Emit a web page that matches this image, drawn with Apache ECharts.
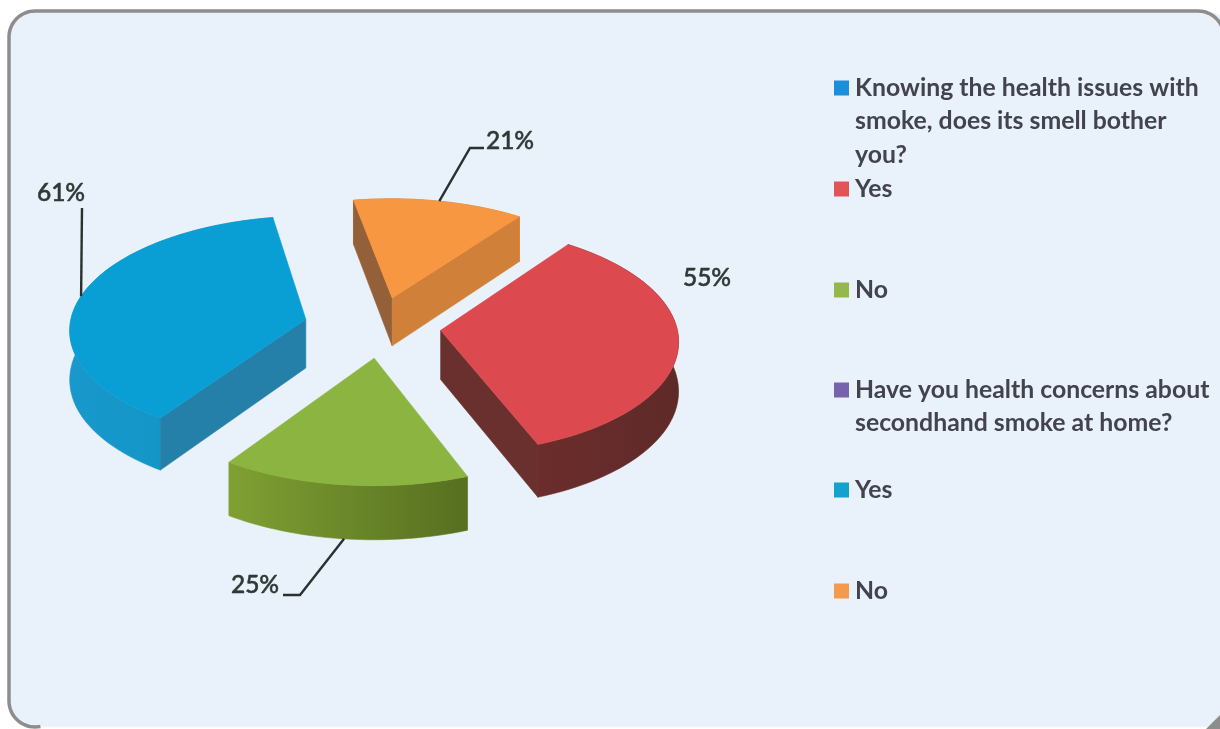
<!DOCTYPE html>
<html>
<head>
<meta charset="utf-8">
<title>Smoke survey</title>
<script src="https://cdn.jsdelivr.net/npm/echarts@6/dist/echarts.min.js"></script>
<style>
html,body{margin:0;padding:0;background:#fff}
#chart{width:1220px;height:729px}
</style>
</head>
<body>
<div id="chart"></div>
<script>
// Survey responses; each entry is one legend row and one pie slice.
const legendLines = [
  ['Knowing the health issues with', 'smoke, does its smell bother', 'you?'],
  ['Yes'],
  ['No'],
  ['Have you health concerns about', 'secondhand smoke at home?'],
  ['Yes'],
  ['No']
];
const values = [0, 55, 25, 0, 61, 21];
const legendColors = ['#1b8fd8', '#e05558', '#95b84d', '#7763ab', '#12a2cc', '#f59a4c'];
const legendRowY = [88, 189, 290, 390, 490, 591];

// Slice shading: top face, outer rim gradient, and the two radial cut faces.
const topColors  = ['#1b8fd8', '#dc4a50', '#8cb440', '#7763ab', '#0a9fd4', '#f79742'];
const rimLeft    = ['#1b8fd8', '#6c2d2c', '#80a033', '#7763ab', '#1898cb', '#c97a34'];
const rimRight   = ['#1b8fd8', '#5e2a28', '#566f20', '#7763ab', '#0f93c2', '#c97a34'];
const wallStart  = ['#1b8fd8', '#6a2f2c', '#6a8728', '#7763ab', '#2480a8', '#93603a'];
const wallEnd    = ['#1b8fd8', '#6a302e', '#6a8728', '#7763ab', '#2480a8', '#d08038'];

// Small screen-space shift applied to each exploded slice.
const sliceShift = [[0, 0], [-1, 1], [8, 0], [0, 0], [-2, 1], [3, 4]];

// Value label placement in screen space, and the elbow of each leader line.
const labelAt  = [null, [707, 278], [255, 585], null, [61, 193], [510, 141]];
const elbowAt  = [null, null, [300, 595], null, [82, 208], [470, 148]];
const leaderTo = [null, null, [283, 595], null, [82, 208], [484, 148]];

const pie = {cx: 374, cy: 325, radius: 236, tilt: 0.48, perspective: 0.08,
             depth: 49, explode: 68, startDeg: 36.5};

const total = values.reduce((a, b) => a + b, 0);
const rad = d => d * Math.PI / 180;

function project(X, Y, z, shift) {
  const f = 1 + pie.perspective * Y / pie.radius;
  return [pie.cx + shift[0] + X * f, pie.cy + shift[1] + Y * pie.tilt * f + (z || 0) * f];
}

// Start and end angle (clockwise from twelve o'clock) of a slice.
function sliceAngles(i, value) {
  let before = 0;
  for (let j = 0; j < i; j++) before += values[j];
  const a0 = pie.startDeg + before / total * 360;
  return [a0, a0 + value / total * 360];
}

function makeRenderer(i) {
  return function (params, api) {
    const value = api.value(0);
    if (!value) return {type: 'group', children: []};
    const [a0, a1] = sliceAngles(i, value);
    const mid = rad((a0 + a1) / 2);
    const ex = pie.explode * Math.sin(mid), ey = -pie.explode * Math.cos(mid);
    const rimPoint = (deg, z) => project(
      ex + pie.radius * Math.sin(rad(deg)),
      ey - pie.radius * Math.cos(rad(deg)), z, sliceShift[i]);
    const apex = z => project(ex, ey, z, sliceShift[i]);

    const topArc = [], bottomArc = [];
    for (let d = a0; d < a1; d += 1.5) {
      topArc.push(rimPoint(d, 0));
      bottomArc.push(rimPoint(d, pie.depth));
    }
    topArc.push(rimPoint(a1, 0));
    bottomArc.push(rimPoint(a1, pie.depth));

    const poly = (points, fill) => ({
      type: 'polygon', shape: {points},
      style: {fill, stroke: fill, lineWidth: 0.6}
    });
    const children = [];
    children.push(poly(topArc.concat(bottomArc.slice().reverse()),
      new echarts.graphic.LinearGradient(0, 0, 1, 0, [
        {offset: 0, color: rimLeft[i]},
        {offset: 1, color: rimRight[i]}
      ])));
    // Only the cut faces turned toward the viewer are drawn.
    if (Math.sin(rad(a0)) < 0) {
      children.push(poly([apex(0), rimPoint(a0, 0), rimPoint(a0, pie.depth), apex(pie.depth)], wallStart[i]));
    }
    if (Math.sin(rad(a1)) > 0) {
      children.push(poly([apex(0), rimPoint(a1, 0), rimPoint(a1, pie.depth), apex(pie.depth)], wallEnd[i]));
    }
    children.push(poly([apex(0)].concat(topArc), topColors[i]));

    // Value label, with a leader line from the rim midpoint when it has one.
    const midDeg = (a0 + a1) / 2;
    if (elbowAt[i]) {
      const anchor = rimPoint(midDeg, Math.cos(mid) < 0 ? pie.depth : 0);
      children.push({type: 'polyline', shape: {points: [anchor, elbowAt[i], leaderTo[i]]},
        style: {fill: 'none', stroke: '#2b312f', lineWidth: 2.4}});
    }
    children.push({type: 'text', style: {
      x: labelAt[i][0], y: labelAt[i][1],
      text: value + '%', fill: '#2e3835', stroke: '#2e3835', lineWidth: 0.5,
      align: 'center', verticalAlign: 'middle',
      font: '500 24.5px Lato'
    }});
    return {type: 'group', children};
  };
}

// Points along a panel corner; angles are screen degrees, clockwise from +x.
function cornerPoints(cx, cy, r, from, to) {
  const pts = [];
  for (let d = from; d <= to; d += 6) {
    pts.push([cx + r * Math.cos(rad(d)), cy + r * Math.sin(rad(d))]);
  }
  return pts;
}

const panelOutline = [].concat(
  cornerPoints(35, 701, 26, 78, 180),
  cornerPoints(35, 37, 26, 180, 270),
  cornerPoints(1198, 37, 26, 270, 336)
);

const lineHeight = 33.5;
const option = {
  animation: false,
  graphic: [
    // Panel fill runs off the right edge; its outline is only heavy on the top and left.
    {type: 'rect', z: -2, silent: true,
     shape: {x: 9, y: 11, width: 1222, height: 716, r: 26},
     style: {fill: '#e9f1fa', stroke: '#f6f8fb', lineWidth: 1}},
    {type: 'polyline', z: -1, silent: true,
     shape: {points: panelOutline},
     style: {fill: 'none', stroke: '#8d8d8d', lineWidth: 3.5}},
    {type: 'polygon', z: -1, silent: true,
     shape: {points: [[1220, 715], [1220, 729], [1206, 729]]},
     style: {fill: '#8d8d8d'}}
  ],
  legend: legendLines.map((lines, i) => {
    // Leading blank lines keep the marker level with the first line of a wrapped entry.
    const n = 2 * lines.length - 1;
    return {
      left: 834,
      top: legendRowY[i] - n * lineHeight / 2,
      padding: 0,
      selectedMode: false,
      itemWidth: 15, itemHeight: 15, itemGap: 0,
      icon: 'rect',
      data: [{name: lines.join(' '), itemStyle: {color: legendColors[i]}}],
      formatter: () => '\n'.repeat(lines.length - 1) + lines.join('\n'),
      textStyle: {fontFamily: 'Lato', fontWeight: 'bold', fontSize: 24.8, color: '#43434e',
                  lineHeight, padding: [0, 0, 0, 1]}
    };
  }),
  series: legendLines.map((lines, i) => ({
    type: 'custom',
    name: lines.join(' '),
    coordinateSystem: 'none',
    silent: true,
    itemStyle: {color: legendColors[i]},
    z: [2, 4, 5, 2, 3, 2][i],
    data: [[values[i]]],
    renderItem: makeRenderer(i)
  }))
};

echarts.init(document.getElementById('chart')).setOption(option);
</script>
</body>
</html>
